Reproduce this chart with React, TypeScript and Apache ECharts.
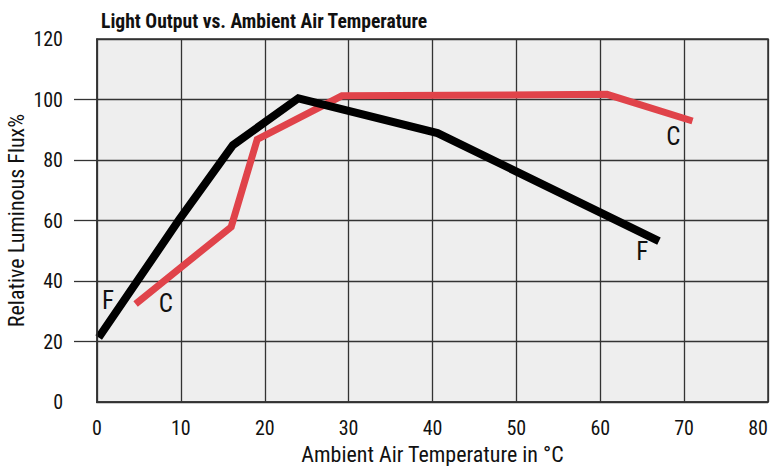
import React, { useEffect, useRef } from "react";
import * as echarts from "echarts";

const FONT = '"Roboto Condensed", "Liberation Sans Narrow", "Arial Narrow", "DejaVu Sans Condensed", sans-serif';

const titleText = "Light Output vs. Ambient Air Temperature";
const xAxisName = "Ambient Air Temperature in °C";
const yAxisName = "Relative Luminous Flux%";

const xTicks = [0, 10, 20, 30, 40, 50, 60, 70, 80];
const yTicks = [0, 20, 40, 60, 80, 100, 120];

// Curve C (red)
const seriesC: [number, number][] = [
  [4.6, 32.4],
  [16.0, 57.9],
  [19.1, 86.8],
  [29.2, 101.2],
  [60.8, 101.7],
  [71.0, 92.9],
];

// Curve F (black)
const seriesF: [number, number][] = [
  [0.2, 21.3],
  [9.8, 60.3],
  [16.2, 84.9],
  [24.0, 100.4],
  [40.6, 88.9],
  [67.0, 53.2],
];

const labelsC: [number, number][] = [
  [8.2, 32.4],
  [68.7, 87.9],
];
const labelsF: [number, number][] = [
  [1.3, 33.7],
  [65.0, 49.6],
];

export default function App() {
  const ref = useRef<HTMLDivElement>(null);
  useEffect(() => {
    if (!ref.current) return;
    const chart = echarts.init(ref.current, null, { renderer: "svg" });
    const mkLabels = (pts: [number, number][], txt: string) => ({
      symbol: "circle",
      symbolSize: 0,
      silent: true,
      label: {
        show: true,
        position: "inside",
        formatter: txt,
        fontFamily: FONT,
        fontSize: 25,
        color: "#111",
      },
      data: pts.map((p) => ({ coord: p, value: txt })),
    });
    chart.setOption({
      animation: false,
      backgroundColor: "#ffffff",
      title: {
        text: titleText,
        left: 96,
        top: 6,
        textStyle: {
          fontFamily: FONT,
          fontWeight: "bold",
          fontSize: 19.6,
          color: "#111",
        },
      },
      grid: {
        left: 97,
        right: 5,
        top: 39,
        bottom: 64,
        containLabel: false,
        outerBoundsMode: "none",
      },
      xAxis: {
        type: "value",
        min: xTicks[0],
        max: xTicks[xTicks.length - 1],
        interval: 10,
        name: xAxisName,
        nameLocation: "middle",
        nameGap: 41,
        nameMoveOverlap: false,
        nameTextStyle: { fontFamily: FONT, fontSize: 22, color: "#111" },
        axisLine: { show: true, lineStyle: { color: "#333", width: 1.5 } },
        axisTick: { show: false },
        axisLabel: {
          margin: 16,
          fontFamily: FONT,
          fontSize: 20,
          color: "#111",
          alignMaxLabel: "right",
        },
        splitLine: { show: true, lineStyle: { color: "#333", width: 1.3 } },
      },
      yAxis: {
        type: "value",
        min: yTicks[0],
        max: yTicks[yTicks.length - 1],
        interval: 20,
        name: yAxisName,
        nameLocation: "middle",
        nameGap: 70,
        nameMoveOverlap: false,
        nameTextStyle: { fontFamily: FONT, fontSize: 22, color: "#111" },
        axisLine: { show: true, lineStyle: { color: "#333", width: 1.5 } },
        axisTick: { show: true, length: 23, lineStyle: { color: "#333", width: 1.3 } },
        axisLabel: {
          margin: 34,
          fontFamily: FONT,
          fontSize: 20,
          color: "#111",
        },
        splitLine: { show: true, lineStyle: { color: "#333", width: 1.3 } },
        splitArea: { show: true, areaStyle: { color: ["#eeeeee", "#eeeeee"] } },
      },
      graphic: [
        { type: "rect", shape: { x: 70, y: 36, width: 26, height: 6 }, style: { fill: "#ffffff" }, z: 100 },
        { type: "rect", shape: { x: 70, y: 399, width: 26, height: 6 }, style: { fill: "#ffffff" }, z: 100 },
        { type: "rect", shape: { x: 97, y: 39, width: 671, height: 363 }, style: { fill: "none", stroke: "#333", lineWidth: 1.5 }, z: 50, silent: true },
      ],
      series: [
        {
          name: "C",
          type: "line",
          data: seriesC,
          symbol: "none",
          lineStyle: { color: "#e0434a", width: 7, cap: "butt", join: "miter" },
          z: 3,
          markPoint: mkLabels(labelsC, "C"),
        },
        {
          name: "F",
          type: "line",
          data: seriesF,
          symbol: "none",
          lineStyle: { color: "#000000", width: 8, cap: "butt", join: "miter" },
          z: 4,
          markPoint: mkLabels(labelsF, "F"),
        },
      ],
    });
    return () => chart.dispose();
  }, []);
  return (
    <div
      ref={ref}
      style={{ position: "absolute", left: 0, top: 0, width: 773, height: 466 }}
    />
  );
}
